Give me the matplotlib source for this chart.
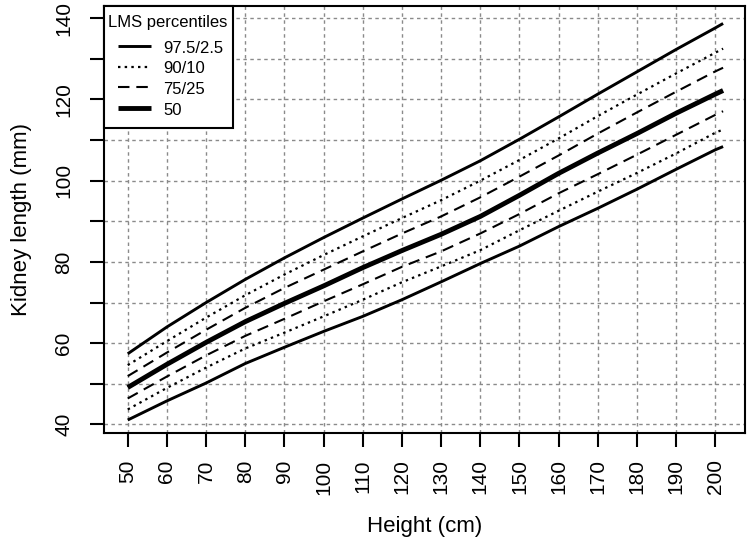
import matplotlib
matplotlib.use("Agg")
import matplotlib.pyplot as plt
from matplotlib.patches import Rectangle
from matplotlib.ticker import MultipleLocator, FuncFormatter

plt.rcParams['font.family'] = ['Liberation Sans', 'DejaVu Sans']

# height (cm) and LMS percentile curves of kidney length (mm)
height = [50, 60, 70, 80, 90, 100, 110, 120, 130, 140, 150, 160, 170, 180, 190, 200, 202]
p97_5 = [57.4, 64.0, 70.0, 75.7, 81.0, 86.0, 90.8, 95.5, 100.1, 104.9, 110.2, 115.7, 121.3, 126.8, 132.3, 137.6, 138.7]
p90 = [54.6, 60.5, 66.3, 71.8, 76.9, 81.7, 86.3, 90.8, 95.2, 100.0, 105.1, 110.4, 115.9, 121.2, 126.4, 131.5, 132.5]
p75 = [51.9, 57.7, 63.3, 68.7, 73.6, 78.1, 82.6, 87.0, 91.2, 95.9, 101.0, 106.2, 111.6, 116.8, 121.9, 126.9, 127.8]
p50 = [49.1, 54.8, 60.2, 65.3, 69.8, 74.1, 78.6, 82.8, 86.8, 91.2, 96.4, 101.8, 106.8, 111.6, 116.6, 121.3, 122.2]
p25 = [46.4, 51.8, 57.0, 61.8, 66.0, 70.3, 74.5, 78.8, 82.6, 87.0, 91.8, 96.9, 101.6, 106.4, 111.3, 116.2, 117.1]
p10 = [43.7, 49.0, 54.0, 58.7, 62.6, 66.6, 70.7, 75.0, 78.9, 82.9, 87.8, 92.6, 97.3, 101.9, 106.7, 111.8, 112.6]
p2_5 = [41.1, 45.8, 50.2, 55.0, 59.0, 62.9, 66.6, 70.7, 75.1, 79.6, 83.9, 88.7, 93.2, 97.9, 102.8, 107.6, 108.4]

legend_title = "LMS percentiles"
legend_labels = ["97.5/2.5", "90/10", "75/25", "50"]

fig = plt.figure(figsize=(7.49, 5.45), dpi=100)
ax = fig.add_axes([0.1389, 0.2055, 0.8558, 0.7835])

solid = dict(color='black', lw=2.1, ls='-', solid_capstyle='butt')
dotted = dict(color='black', lw=1.6, ls=(0, (1.1, 1.9)))
dashed = dict(color='black', lw=1.5, ls=(0, (5.5, 3.3)))
median = dict(color='black', lw=3.5, ls='-', solid_capstyle='butt')

l1, = ax.plot(height, p97_5, **solid)
ax.plot(height, p2_5, **solid)
l2, = ax.plot(height, p90, **dotted)
ax.plot(height, p10, **dotted)
l3, = ax.plot(height, p75, **dashed)
ax.plot(height, p25, **dashed)
l4, = ax.plot(height, p50, **median)

ax.set_xlim(43.95, 207.6)
ax.set_ylim(37.9, 143.0)

ax.set_xticks(range(50, 201, 10))
ax.yaxis.set_major_locator(MultipleLocator(10))
ax.yaxis.set_major_formatter(FuncFormatter(lambda v, p: "%d" % v if int(round(v)) % 20 == 0 else ""))

ax.grid(True, color='#8a8a8a', lw=1.0, ls=(0, (2.5, 2.5)))
ax.set_axisbelow(True)

ax.tick_params(axis='both', direction='out', length=10, width=1.5, labelsize=15)
ax.tick_params(axis='x', pad=9, labelrotation=90)
ax.tick_params(axis='y', pad=12)
for t in ax.get_yticklabels():
    t.set_rotation(90)
    t.set_va('center')

for s in ax.spines.values():
    s.set_linewidth(1.5)

ax.set_xlabel("Height (cm)", fontsize=16)
ax.set_ylabel("Kidney length (mm)", fontsize=16)
ax.xaxis.set_label_coords(0.5, -0.195)
ax.yaxis.set_label_coords(-0.112, 0.5)

# legend box, title and entries
ax.add_patch(Rectangle((0, 0.7143), 0.2012, 0.2857, transform=ax.transAxes,
                       facecolor='white', edgecolor='black', lw=1.5,
                       clip_on=False, zorder=4))
ax.text(0.0065, 0.9625, legend_title, transform=ax.transAxes, fontsize=12,
        ha='left', va='center', zorder=6)
leg = ax.legend([l1, l2, l3, l4], legend_labels, loc='upper left',
                bbox_to_anchor=(0.0214, 0.9215), borderaxespad=0, borderpad=0,
                fontsize=12, handlelength=2.0, handleheight=1.0,
                handletextpad=0.75, labelspacing=0.27, frameon=False)
leg.set_zorder(6)

fig.savefig("out.png", dpi=100)
